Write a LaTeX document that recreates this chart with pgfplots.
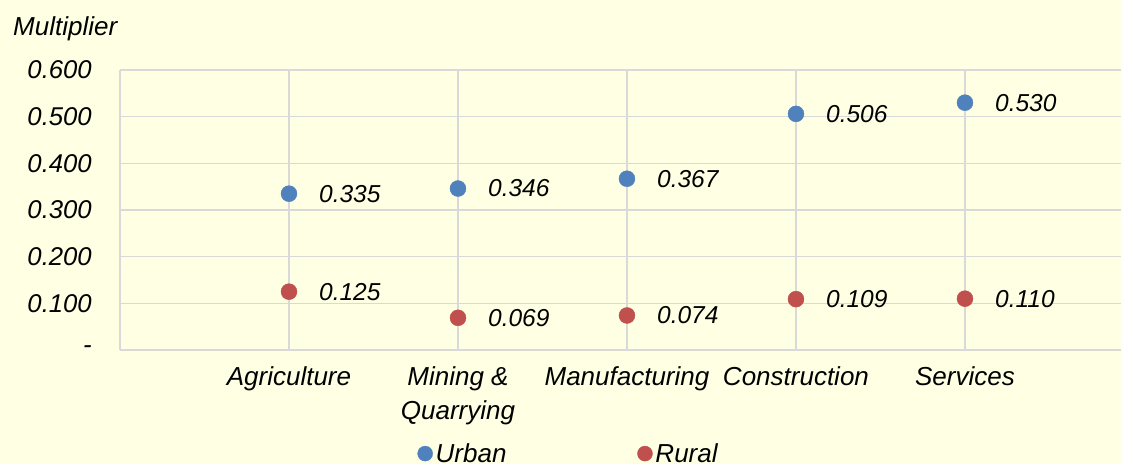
\documentclass[border=0pt]{standalone}
\usepackage{fontspec}
\setmainfont{Liberation Sans}
\usepackage{pgfplots}
\pgfplotsset{compat=1.18}
\usepackage{pgfplotstable}
\definecolor{bgc}{RGB}{255,255,228}
\definecolor{gridc}{RGB}{217,217,217}
\definecolor{urbanc}{RGB}{79,129,189}
\definecolor{ruralc}{RGB}{192,80,77}

\pgfplotstableread{
x y label
1 0.335 0.335
2 0.346 0.346
3 0.367 0.367
4 0.506 0.506
5 0.530 0.530
}\urbandata
\pgfplotstableread{
x y label
1 0.125 0.125
2 0.069 0.069
3 0.074 0.074
4 0.109 0.109
5 0.110 0.110
}\ruraldata

\begin{document}
\begin{tikzpicture}[font=\fontsize{26}{34}\selectfont\itshape]
\fill[bgc] (0,0) rectangle (1121pt,464pt);
\begin{axis}[
  at={(120pt,114pt)}, anchor=south west,
  scale only axis, width=1003pt, height=280pt,
  xmin=0, xmax=5.935, ymin=0, ymax=0.6,
  axis x line=bottom, axis y line=left,
  axis line style={-, draw=gridc, line width=1.5pt},
  grid=major, major grid style={draw=gridc, line width=1.5pt},
  major tick length=0pt,
  xtick={1,2,3,4,5},
  xticklabels={Agriculture, {Mining \&\\Quarrying}, Manufacturing, Construction, Services},
  xticklabel style={align=center, anchor=north, inner sep=0pt, yshift=-16pt},
  ytick={0,0.1,0.2,0.3,0.4,0.5,0.6},
  yticklabels={-,0.100,0.200,0.300,0.400,0.500,0.600},
  yticklabel style={anchor=east, inner sep=0pt, xshift=-28pt, font=\fontsize{25.7}{30}\selectfont\itshape},
  ylabel={Multiplier},
  ylabel style={rotate=-90, at={(rel axis cs:0,1)}, anchor=west, inner sep=0pt, xshift=-107pt, yshift=41pt},
  point meta=explicit symbolic,
  nodes near coords,
  nodes near coords style={anchor=west, inner sep=0pt, xshift=30pt, text=black, font=\fontsize{24.5}{30}\selectfont\itshape},
  legend columns=2,
  legend style={draw=none, fill=none, at={(0.2936,-0.37)}, anchor=west,
    /tikz/every even column/.append style={column sep=128pt},
    nodes={inner sep=3pt}},
  legend image code/.code={\draw[#1, mark size=7.5pt] plot coordinates {(4pt,0pt)};},
  clip=false,
]
\addplot[only marks, mark=*, mark size=8pt, color=urbanc] table[x=x, y=y, meta=label] {\urbandata};
\addlegendentry{Urban}
\addplot[only marks, mark=*, mark size=8pt, color=ruralc] table[x=x, y=y, meta=label] {\ruraldata};
\addlegendentry{Rural}
\end{axis}
\pgfresetboundingbox
\path[use as bounding box] (0,0) rectangle (1121pt,464pt);
\end{tikzpicture}
\end{document}
